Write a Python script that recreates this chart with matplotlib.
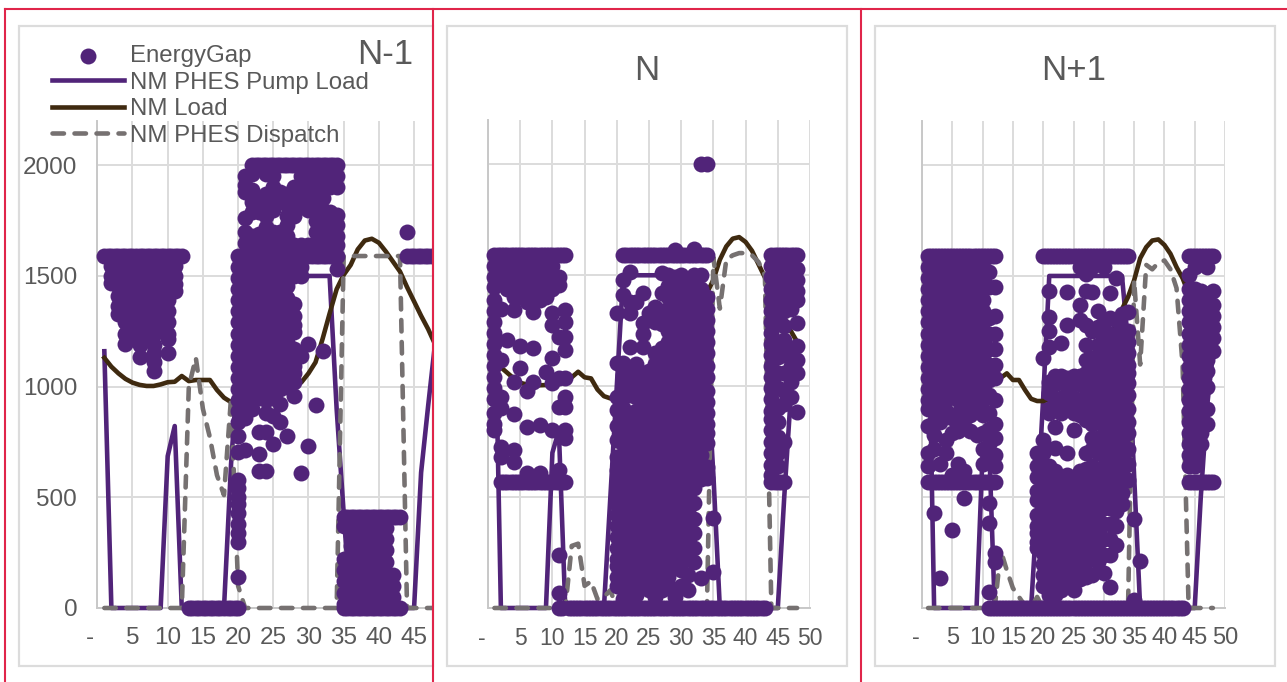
import matplotlib
matplotlib.use('Agg')
import matplotlib.pyplot as plt
from matplotlib.lines import Line2D
from matplotlib.patches import Rectangle
from matplotlib.transforms import Bbox

W, H = 1287, 682
PURPLE = '#512479'
BROWN = '#3f2a10'
GREY = '#767171'
GRID = '#dcdcdc'
TEXT = '#595959'
RED = '#e0254a'

plt.rcParams['font.family'] = ['Liberation Sans', 'DejaVu Sans']

hours = list(range(1, 49))

# half hour series
pump_n1 = [1160, 0, 0, 0, 0, 0, 0, 0, 0, 686, 822, 0, 0, 0, 0, 0, 0, 0, 650, 1100, 1500, 1500, 1500, 1500,
           1500, 1500, 1500, 1500, 1500, 1500, 1500, 1500, 1500, 900, 430, 0, 0, 0, 0, 0, 0, 0, 0, 0, 0, 612, 913, 1200]
load_n1 = [1130, 1090, 1060, 1035, 1018, 1008, 1003, 1003, 1010, 1020, 1022, 1048, 1025, 1030, 1030, 1030,
           985, 950, 930, 920, 930, 940, 950, 960, 965, 975, 985, 1000, 1020, 1060, 1110, 1215, 1330, 1440,
           1505, 1550, 1620, 1660, 1668, 1650, 1610, 1565, 1520, 1450, 1385, 1320, 1260, 1190]
disp_n1 = [0, 0, 0, 0, 0, 0, 0, 0, 0, 0, 0, 0, 1000, 1130, 900, 770, 600, 510, 950, 100, 0, 0, 0, 0, 0, 0,
           0, 0, 0, 0, 0, 0, 0, 0, 1590, 1590, 1590, 1590, 1590, 1590, 1590, 1590, 1590, 0, 0, 0, 0, 0]

pump_n = [1500, 0, 0, 0, 0, 0, 0, 0, 0, 700, 800, 0, 0, 0, 0, 0, 0, 0, 500, 1000, 1500, 1500, 1500, 1500,
          1500, 1500, 1500, 1500, 1500, 1500, 1500, 1500, 1500, 1100, 600, 0, 0, 0, 0, 0, 0, 0, 0, 0, 0, 500, 950, 1150]
load_n = [1120, 1085, 1060, 1035, 1015, 1008, 1004, 1004, 1005, 1012, 1020, 1035, 1040, 1065, 1040, 1035,
          985, 955, 945, 940, 945, 950, 960, 970, 985, 1000, 1020, 1050, 1090, 1150, 1220, 1300, 1370, 1420,
          1480, 1570, 1630, 1665, 1672, 1650, 1610, 1550, 1490, 1430, 1370, 1310, 1250, 1200]
disp_n = [0, 0, 0, 0, 0, 0, 0, 0, 0, 0, 0, 0, 280, 290, 100, 120, 40, 50, 80, 0, 0, 0, 0, 0, 0, 0,
          0, 0, 0, 0, 0, 0, 0, 0, 1580, 1350, 1570, 1590, 1600, 1600, 1590, 1560, 1500, 0, 0, 0, 0, 0]

pump_n2 = [1500, 0, 0, 0, 0, 0, 0, 0, 0, 700, 800, 0, 0, 0, 0, 0, 0, 0, 450, 950, 1500, 1500, 1500, 1500,
           1500, 1500, 1500, 1500, 1500, 1500, 1500, 1500, 1500, 1200, 600, 0, 0, 0, 0, 0, 0, 0, 0, 0, 0, 500, 900, 1150]
load_n2 = [1120, 1085, 1060, 1035, 1015, 1008, 1004, 1004, 1005, 1012, 1020, 1030, 1040, 1060, 1030, 1030,
           985, 945, 935, 935, 940, 950, 960, 970, 985, 1000, 1020, 1050, 1090, 1140, 1200, 1280, 1350, 1405,
           1480, 1580, 1630, 1660, 1665, 1640, 1600, 1540, 1490, 1420, 1360, 1300, 1250, 1200]
disp_n2 = [0, 0, 0, 0, 0, 0, 0, 0, 0, 0, 0, 0, 260, 170, 90, 50, 10, 0, 50, 0, 0, 0, 0, 0, 0, 0,
           0, 0, 0, 0, 0, 0, 0, 0, 1480, 1100, 1550, 1530, 1560, 1570, 1530, 1445, 1100, 0, 0, 0, 0, 0]

# EnergyGap points per half hour
gap_n1 = {
    1: [1590],
    2: [1590, 1545, 1500, 1470],
    3: [1590, 1545, 1500, 1455, 1410, 1365, 1330],
    4: [1590, 1540, 1490, 1440, 1390, 1340, 1290, 1240, 1193],
    5: [1590, 1550, 1500, 1450, 1400, 1350, 1300, 1250, 1215],
    6: [1590, 1540, 1490, 1440, 1390, 1340, 1290, 1240, 1190, 1133],
    7: [1590, 1550, 1500, 1450, 1400, 1350, 1300, 1250, 1220],
    8: [1590, 1540, 1490, 1440, 1390, 1340, 1290, 1240, 1190, 1150, 1110, 1070],
    9: [1590, 1550, 1500, 1450, 1400, 1350, 1300, 1250],
    10: [1590, 1540, 1490, 1440, 1390, 1340, 1290, 1240, 1215, 1152],
    11: [1590, 1545, 1500, 1465, 1433],
    12: [1590],
    13: [0], 14: [0], 15: [0], 16: [0], 17: [0], 18: [0], 19: [0],
    20: [1590, 1540, 1490, 1440, 1390, 1340, 1290, 1240, 1190, 1140, 1090, 1040, 990, 940, 890, 839, 776, 703, 580,
         540, 500, 470, 430, 380, 340, 300, 140, 0],
    21: [1950, 1910, 1880, 1760, 1700, 1650, 1600, 1550, 1500, 1450, 1400, 1350, 1300, 1250, 1200, 1150, 1100, 1050,
         1000, 950, 900, 860, 716],
    22: [2000, 1960, 1890, 1836, 1790, 1680, 1640, 1590, 1540, 1490, 1440, 1390, 1340, 1290, 1240, 1190, 1140, 1090,
         1040, 990, 940, 898],
    23: [2000, 1840, 1790, 1690, 1640, 1590, 1550, 1500, 1450, 1400, 1350, 1300, 1250, 1200, 1150, 1100, 1050, 1000,
         950, 793, 694, 617],
    24: [2000, 1960, 1870, 1820, 1770, 1720, 1670, 1620, 1590, 1540, 1490, 1440, 1390, 1340, 1290, 1240, 1190, 1140,
         1090, 1040, 990, 940, 880, 793, 617],
    25: [2000, 1950, 1900, 1850, 1800, 1700, 1650, 1600, 1550, 1500, 1450, 1400, 1350, 1300, 1250, 1200, 1150, 1100,
         1050, 1000, 950, 866, 739],
    26: [2000, 1880, 1840, 1700, 1650, 1600, 1540, 1490, 1440, 1390, 1340, 1290, 1240, 1190, 1140, 1090, 1040, 990,
         921, 839],
    27: [2000, 1870, 1820, 1770, 1730, 1680, 1630, 1590, 1550, 1500, 1456, 1400, 1350, 1300, 1250, 1200, 1150, 1100,
         1050, 1000, 776],
    28: [2000, 1900, 1850, 1810, 1770, 1640, 1590, 1540, 1500, 1374, 1320, 1280, 1247, 1170, 1130, 1095, 1060, 1020,
         957],
    29: [2000, 1950, 1900, 1850, 1810, 1640, 1590, 1540, 1500, 1140, 612],
    30: [2000, 1950, 1900, 1850, 1800, 1640, 1590, 1193, 730],
    31: [2000, 1950, 1900, 1850, 1800, 1750, 1700, 1650, 1590, 916],
    32: [2000, 1950, 1900, 1850, 1800, 1750, 1700, 1640, 1590, 1161],
    33: [2000, 1950, 1900, 1790, 1730, 1680, 1630, 1590],
    34: [2000, 1950, 1900, 1775, 1730, 1680, 1640, 1590, 1530],
    35: [410, 370, 220, 170, 120, 70, 20, 0],
    36: [410, 370, 330, 280, 230, 180, 130, 80, 40, 0],
    37: [410, 360, 310, 260, 210, 160, 110, 60, 20, 0],
    38: [410, 370, 320, 270, 220, 170, 120, 70, 30, 0],
    39: [410, 360, 310, 260, 210, 160, 110, 60, 20, 0],
    40: [410, 370, 320, 270, 220, 170, 120, 70, 30, 0],
    41: [410, 360, 310, 260, 210, 150, 100, 50, 0],
    42: [410, 150, 100, 50, 0],
    43: [410, 0],
    44: [1700, 1590],
    45: [1590], 46: [1590], 47: [1590], 48: [1590],
}
# rows of points at the half steps between the whole ones
rows_n1 = {
    1590: [1.5, 2.5, 3.5, 4.5, 5.5, 6.5, 7.5, 8.5, 9.5, 10.5, 11.5, 20.5, 21.5, 22.5, 23.5, 24.5, 25.5, 26.5, 27.5,
           28.5, 29.5, 30.5, 31.5, 32.5, 33.5, 44.5, 45.5, 46.5, 47.5],
    2000: [22.5, 23.5, 24.5, 25.5, 26.5, 27.5, 28.5, 29.5, 30.5, 31.5, 32.5, 33.5],
    410: [35.5, 36.5, 37.5, 38.5, 39.5, 40.5, 41.5, 42.5],
    0: [13.5, 14.5, 15.5, 16.5, 17.5, 18.5, 19.5, 35.5, 36.5, 37.5, 38.5, 39.5, 40.5, 41.5, 42.5],
}

gap_n = {
    1: [1590, 1540, 1490, 1446, 1390, 1340, 1290, 1240, 1190, 1140, 1090, 1040, 990, 940, 880, 830, 802],
    2: [1590, 1540, 1490, 1350, 1120, 950, 900, 725, 680, 570],
    3: [1590, 1540, 1490, 1440, 1207, 570],
    4: [1590, 1540, 1490, 1440, 1400, 1342, 1018, 874, 712, 658, 570],
    5: [1590, 1540, 1490, 1440, 1400, 1180, 1080, 570],
    6: [1590, 1540, 1480, 1430, 1380, 980, 815, 608, 570],
    7: [1590, 1530, 1480, 1430, 1380, 1333, 1170, 1018, 570],
    8: [1590, 1540, 1480, 1430, 1390, 824, 608, 570],
    9: [1590, 1540, 1490, 1440, 1400, 1065, 570],
    10: [1590, 1540, 1490, 1440, 1328, 1275, 1127, 1013, 802, 570],
    11: [1590, 1490, 1455, 1220, 1036, 905, 620, 570, 240, 67, 0],
    12: [1590, 1342, 1288, 1220, 1162, 1036, 950, 905, 802, 765, 570],
    13: [0], 14: [0], 15: [0], 16: [0], 17: [0], 18: [0], 19: [0],
    20: [1328, 1103, 950, 892, 820, 757, 680, 620, 570, 520, 470, 420, 370, 320, 270, 220, 190, 140, 100, 0],
    21: [1590, 1477, 1410, 1103, 1050, 1000, 950, 900, 860, 800, 740, 690, 640, 590, 540, 490, 440, 390, 340, 290, 240,
         190, 140, 90, 40, 0],
    22: [1590, 1513, 1378, 1328, 1176, 1060, 1010, 960, 880, 830, 780, 730, 680, 630, 580, 530, 470, 420, 370, 320, 270,
         220, 170, 120, 70, 0],
    23: [1590, 1380, 1100, 1050, 1000, 950, 890, 840, 790, 740, 690, 640, 590, 540, 490, 450, 400, 350, 300, 250, 200,
         150, 110, 60, 0],
    24: [1590, 1419, 1283, 1234, 1176, 1060, 1010, 960, 910, 860, 810, 760, 710, 660, 610, 560, 510, 460, 410, 360, 310,
         260, 210, 150, 100, 0],
    25: [1590, 1330, 1070, 1020, 970, 920, 870, 820, 770, 720, 670, 620, 570, 520, 470, 430, 380, 330, 280, 230, 190,
         130, 80, 0],
    26: [1590, 1355, 1290, 1150, 1100, 1050, 1000, 950, 900, 850, 800, 750, 700, 650, 600, 550, 500, 450, 400, 350, 300,
         250, 200, 150, 100, 50, 0],
    27: [1590, 1509, 1419, 1340, 1280, 1170, 1120, 1070, 1020, 970, 920, 870, 820, 770, 720, 670, 610, 560, 510, 460,
         400, 350, 300, 250, 200, 150, 80, 0],
    28: [1590, 1500, 1450, 1400, 1350, 1300, 1250, 1200, 1150, 1100, 1050, 1000, 950, 900, 850, 800, 750, 700, 650,
         600, 550, 500, 450, 400, 350, 300, 240, 190, 140, 100, 0],
    29: [1612, 1590, 1490, 1440, 1390, 1340, 1290, 1240, 1190, 1140, 1090, 1040, 990, 940, 890, 840, 790, 740, 690,
         640, 590, 540, 490, 440, 390, 340, 290, 240, 190, 50, 0],
    30: [1590, 1500, 1450, 1400, 1350, 1300, 1250, 1200, 1150, 1100, 1050, 1000, 950, 900, 850, 800, 750, 700, 650,
         600, 550, 500, 440, 390, 340, 290, 240, 170, 100, 0],
    31: [1590, 1480, 1430, 1380, 1330, 1280, 1230, 1180, 1130, 1080, 1030, 980, 930, 880, 830, 780, 730, 680, 630,
         580, 530, 480, 430, 380, 330, 280, 220, 150, 80, 0],
    32: [1620, 1590, 1500, 1450, 1400, 1350, 1300, 1250, 1200, 1150, 1100, 1050, 1000, 950, 900, 850, 800, 750, 700,
         650, 600, 540, 473, 400, 338, 270, 207, 0],
    33: [2000, 1590, 1500, 1440, 1390, 1340, 1290, 1240, 1190, 1140, 1090, 1040, 990, 940, 890, 840, 790, 740, 690,
         640, 580, 135, 0],
    34: [2000, 1590, 1400, 1350, 1300, 1250, 1200, 1150, 1090, 1040, 980, 930, 880, 830, 790, 743, 635, 585, 0],
    35: [405, 162, 0], 36: [0], 37: [0], 38: [0], 39: [0], 40: [0], 41: [0], 42: [0], 43: [0],
    44: [1590, 1540, 1490, 1440, 1390, 1340, 1290, 1240, 1190, 1140, 1090, 1040, 990, 940, 890, 850, 802, 750, 700, 645,
         600, 570],
    45: [1590, 1500, 1450, 1380, 1330, 1200, 1130, 1060, 990, 900, 840, 770, 700, 640, 570],
    46: [1590, 1540, 1510, 1410, 1340, 1270, 1210, 1140, 1060, 980, 920, 750, 570],
    47: [1590, 1530, 1480, 1440, 1390, 1350, 1150, 1090, 1020, 950],
    48: [1590, 1530, 1480, 1430, 1390, 1283, 1180, 1120, 1060, 884],
}
rows_n = {
    1590: [1.5, 2.5, 3.5, 4.5, 5.5, 6.5, 7.5, 8.5, 9.5, 10.5, 11.5, 21.5, 22.5, 23.5, 24.5, 25.5, 26.5, 27.5, 28.5,
           29.5, 30.5, 31.5, 32.5, 33.5, 44.5, 45.5, 46.5, 47.5],
    570: [2.5, 3.5, 4.5, 5.5, 6.5, 7.5, 8.5, 9.5, 10.5, 11.5, 44.5, 45.5],
    0: [11.5, 12.5, 13.5, 14.5, 15.5, 16.5, 17.5, 18.5, 19.5, 20.5, 21.5, 22.5, 23.5, 24.5, 25.5, 26.5, 27.5, 28.5,
        29.5, 30.5, 31.5, 32.5, 33.5, 34.5, 35.5, 36.5, 37.5, 38.5, 39.5, 40.5, 41.5, 42.5],
}

gap_n2 = {
    1: [1590, 1540, 1490, 1440, 1390, 1340, 1290, 1240, 1190, 1140, 1090, 1040, 990, 940, 900, 820, 700, 640, 570],
    2: [1590, 1540, 1490, 1440, 1390, 1340, 1290, 1240, 1190, 1140, 1090, 1040, 990, 940, 890, 840, 780, 720, 570, 430],
    3: [1590, 1540, 1490, 1440, 1390, 1340, 1290, 1240, 1190, 1140, 1090, 1040, 990, 940, 890, 840, 650, 570, 135],
    4: [1590, 1540, 1490, 1440, 1390, 1340, 1290, 1240, 1190, 1140, 1090, 1040, 990, 940, 890, 870, 760, 700, 570],
    5: [1590, 1540, 1490, 1440, 1390, 1340, 1290, 1240, 1190, 1140, 1090, 1040, 990, 860, 790, 600, 570, 352],
    6: [1590, 1540, 1490, 1440, 1390, 1340, 1290, 1240, 1190, 1140, 1090, 1040, 990, 940, 880, 800, 650, 570],
    7: [1590, 1540, 1490, 1440, 1390, 1340, 1290, 1240, 1190, 1140, 1090, 1040, 990, 940, 890, 820, 620, 570, 497],
    8: [1590, 1540, 1490, 1440, 1390, 1340, 1290, 1240, 1190, 1140, 1090, 1040, 990, 940, 870, 800, 570],
    9: [1590, 1540, 1490, 1440, 1390, 1340, 1290, 1240, 1190, 1140, 1090, 1040, 990, 940, 890, 780, 570],
    10: [1590, 1540, 1490, 1440, 1390, 1340, 1290, 1240, 1190, 1140, 1090, 1040, 990, 940, 870, 790, 720, 650, 570],
    11: [1590, 1520, 1450, 1310, 1240, 1170, 1100, 1030, 960, 880, 810, 740, 670, 570, 474, 384, 72, 0],
    12: [1590, 1450, 1320, 1240, 1170, 1100, 1040, 940, 830, 770, 690, 640, 570, 248, 208, 0],
    13: [0], 14: [0], 15: [0], 16: [0], 17: [0], 18: [0],
    19: [700, 640, 590, 530, 490, 420, 370, 340, 300, 270, 0],
    20: [1590, 1130, 760, 700, 640, 590, 540, 500, 450, 400, 350, 300, 250, 200, 150, 100, 0],
    21: [1590, 1432, 1315, 1250, 1180, 1020, 970, 900, 880, 640, 600, 530, 480, 430, 390, 320, 270, 220, 180, 110, 60, 0],
    22: [1590, 1050, 1010, 940, 818, 723, 620, 570, 520, 480, 430, 380, 340, 290, 240, 200, 130, 60, 0],
    23: [1590, 1197, 1050, 1020, 950, 880, 570, 520, 470, 430, 380, 340, 290, 240, 190, 150, 80, 0],
    24: [1590, 1427, 1279, 1040, 1000, 930, 700, 600, 550, 500, 450, 400, 350, 300, 250, 200, 150, 110, 0],
    25: [1590, 1050, 1010, 950, 880, 804, 570, 520, 470, 430, 380, 330, 290, 240, 190, 150, 80, 0],
    26: [1590, 1540, 1369, 1300, 1050, 1010, 940, 870, 620, 570, 520, 480, 410, 370, 320, 270, 220, 170, 130, 0],
    27: [1590, 1510, 1430, 1280, 1190, 1120, 1060, 990, 920, 850, 700, 630, 590, 540, 490, 440, 390, 350, 300, 250, 210,
         140, 0],
    28: [1590, 1540, 1427, 1250, 1130, 1080, 1040, 980, 930, 880, 830, 770, 720, 640, 590, 540, 500, 450, 400, 360, 310,
         260, 220, 150, 0],
    29: [1590, 1340, 1270, 1190, 1140, 1090, 1040, 990, 940, 890, 850, 770, 700, 620, 570, 520, 480, 430, 380, 340, 290,
         210, 0],
    30: [1590, 1540, 1290, 1230, 1180, 1130, 1080, 1030, 980, 930, 880, 830, 790, 740, 690, 640, 590, 550, 502, 450, 380,
         310, 240, 158, 0],
    31: [1590, 1423, 1310, 1240, 1190, 1140, 1090, 1040, 990, 940, 890, 840, 790, 740, 680, 630, 590, 540, 490, 450, 380,
         310, 240, 95, 0],
    32: [1590, 1490, 1300, 1230, 1180, 1130, 1080, 1030, 980, 930, 880, 830, 790, 740, 680, 620, 580, 510, 440, 370, 285,
         0],
    33: [1590, 1330, 1260, 1210, 1160, 1110, 1060, 1010, 960, 910, 850, 810, 760, 710, 660, 610, 570, 520, 470, 0],
    34: [1590, 1337, 1250, 1202, 1150, 1100, 1060, 1016, 960, 900, 840, 791, 720, 650, 580, 0],
    35: [402, 36, 0], 36: [212, 0], 37: [0], 38: [0], 39: [0], 40: [0], 41: [0], 42: [0], 43: [0],
    44: [1590, 1505, 1440, 1390, 1340, 1290, 1240, 1190, 1140, 1090, 1040, 990, 940, 890, 840, 790, 740, 690, 640, 570],
    45: [1590, 1540, 1440, 1390, 1340, 1290, 1240, 1190, 1140, 1090, 1040, 990, 940, 890, 840, 790, 740, 690, 640, 570],
    46: [1590, 1430, 1380, 1330, 1280, 1230, 1180, 1130, 1080, 1030, 980, 930, 880, 830, 790, 740, 570],
    47: [1590, 1540, 1420, 1370, 1320, 1270, 1220, 1170, 1120, 1070, 1000, 900, 830, 570],
    48: [1590, 1430, 1370, 1320, 1270, 1220, 1160, 570],
}
rows_n2 = {
    1590: [1.5, 2.5, 3.5, 4.5, 5.5, 6.5, 7.5, 8.5, 9.5, 10.5, 11.5, 20.5, 21.5, 22.5, 23.5, 24.5, 25.5, 26.5, 27.5,
           28.5, 29.5, 30.5, 31.5, 32.5, 33.5, 44.5, 45.5, 46.5, 47.5],
    570: [1.5, 2.5, 3.5, 4.5, 5.5, 6.5, 7.5, 8.5, 9.5, 10.5, 11.5, 44.5, 45.5, 46.5, 47.5],
    0: [11.5, 12.5, 13.5, 14.5, 15.5, 16.5, 17.5, 18.5, 19.5, 20.5, 21.5, 22.5, 23.5, 24.5, 25.5, 26.5, 27.5, 28.5,
        29.5, 30.5, 31.5, 32.5, 33.5, 34.5, 35.5, 36.5, 37.5, 38.5, 39.5, 40.5, 41.5, 42.5],
}

titles = ['N-1', 'N', 'N+1']
panels = [
    dict(frame=(19, 26, 433, 666), plot=(97.3, 121, 433, 608), xmax=47.69, ticks=range(0, 50, 5), y_labels=True,
         pump=pump_n1, load=load_n1, disp=disp_n1, gap=gap_n1, rows=rows_n1, size=17.5, clip=433),
    dict(frame=(447, 26, 847, 666), plot=(488, 120, 810, 608), xmax=50, ticks=range(0, 55, 5), y_labels=False,
         pump=pump_n, load=load_n, disp=disp_n, gap=gap_n, rows=rows_n, size=16.5, clip=W),
    dict(frame=(875, 26, 1275, 666), plot=(922, 121, 1225, 608), xmax=50, ticks=range(0, 55, 5), y_labels=False,
         pump=pump_n2, load=load_n2, disp=disp_n2, gap=gap_n2, rows=rows_n2, size=17, clip=W),
]

fig = plt.figure(figsize=(W / 100, H / 100), dpi=100)


def draw_panel(p):
    x0, y0, x1, y1 = p['frame']
    fig.add_artist(Rectangle((x0 / W, 1 - y1 / H), (x1 - x0) / W, (y1 - y0) / H, transform=fig.transFigure,
                             facecolor='white', edgecolor=GRID, linewidth=1.6, zorder=-5))
    left, top, right, bottom = p['plot']
    ax = fig.add_axes([left / W, 1 - bottom / H, (right - left) / W, (bottom - top) / H])
    ax.patch.set_alpha(0)
    ax.set_xlim(0, p['xmax'])
    ax.set_ylim(0, 2200)
    ax.set_yticks([0, 500, 1000, 1500, 2000])
    ax.set_xticks(list(p['ticks']))
    # the zero label carries the padding of an accounting number format
    ax.set_xticklabels(['-  ' if t == 0 else str(t) for t in p['ticks']])
    ax.grid(True, color=GRID, linewidth=1.4)
    ax.set_axisbelow(True)
    ax.tick_params(length=0, labelsize=p['size'], labelcolor=TEXT)
    ax.tick_params(axis='x', pad=14)
    ax.tick_params(axis='y', pad=14.5)
    if not p['y_labels']:
        ax.tick_params(labelleft=False)
    for side in ['top', 'right']:
        ax.spines[side].set_visible(False)
    for side in ['left', 'bottom']:
        ax.spines[side].set_color('#c8c8c8')
        ax.spines[side].set_linewidth(1.4)

    # zorder 3 keeps the lines above the spines, the zero dashes lie right on the bottom one
    l1, = ax.plot(hours, p['pump'], color=PURPLE, linewidth=3.3, label='NM PHES Pump Load', solid_joinstyle='round',
                  zorder=3)
    l2, = ax.plot(hours, p['load'], color=BROWN, linewidth=3.3, label='NM Load', solid_joinstyle='round', zorder=3)
    l3, = ax.plot(hours, p['disp'], color=GREY, linewidth=3.3, linestyle=(0, (2.5, 2.3)), dash_capstyle='round',
                  label='NM PHES Dispatch', zorder=3)
    xs = [k for k, v in p['gap'].items() for _ in v] + [x for v in p['rows'].values() for x in v]
    ys = [y for v in p['gap'].values() for y in v] + [k for k, v in p['rows'].items() for _ in v]
    pts = ax.scatter(xs, ys, s=132, color=PURPLE, linewidths=0, zorder=4, label='EnergyGap')
    # marks sit half over the zero line, only the first panel gets cut off, at the screenshot edge
    for art in [l1, l2, l3, pts]:
        art.set_clip_path(None)
        art.set_clip_box(Bbox.from_extents(0, 0, p['clip'], H))
    return ax


axes = [draw_panel(p) for p in panels]

fig.text(385 / W, 1 - 54 / H, titles[0], fontsize=25, color=TEXT, ha='center', va='center')
fig.text(647 / W, 1 - 70 / H, titles[1], fontsize=25, color=TEXT, ha='center', va='center')
fig.text(1074 / W, 1 - 70 / H, titles[2], fontsize=25, color=TEXT, ha='center', va='center')

handles, labels = axes[0].get_legend_handles_labels()
order = [labels.index(n) for n in ['EnergyGap', 'NM PHES Pump Load', 'NM Load', 'NM PHES Dispatch']]
fig.legend([handles[i] for i in order], [labels[i] for i in order], loc='upper left',
           bbox_to_anchor=(52 / W, 1 - 45 / H), bbox_transform=fig.transFigure, frameon=False, borderpad=0,
           borderaxespad=0, fontsize=17.3, labelcolor=TEXT, handlelength=2.98, handletextpad=0.25,
           labelspacing=0.19, scatterpoints=1)

# red guide lines of the screenshot
for xs, ys in [([5, 5], [9, 682]), ([5, W], [9, 9]), ([433, 433], [9, 682]), ([861, 861], [9, 682])]:
    fig.add_artist(Line2D([x / W for x in xs], [1 - y / H for y in ys], color=RED, linewidth=1.5,
                          transform=fig.transFigure))

fig.savefig('out.png', dpi=100)
